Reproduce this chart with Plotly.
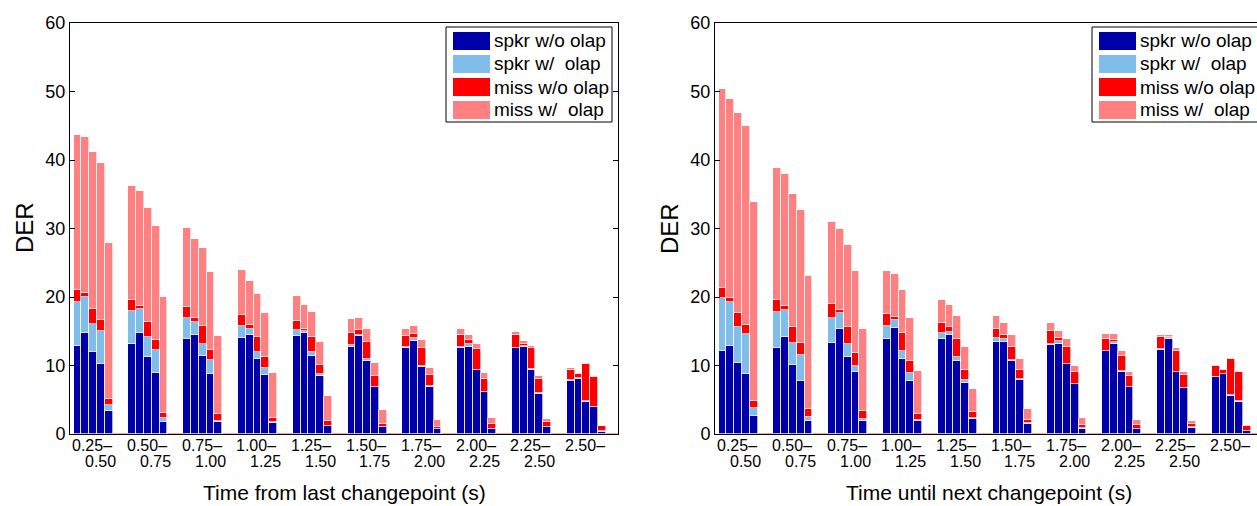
import plotly.graph_objects as go

W, H = 1257, 506
FONT = "Liberation Sans, Arial, Helvetica, sans-serif"

# Duration bins (two-line tick labels), five bars per bin
BIN_LABELS = [
    ("0.25–", "0.50"), ("0.50–", "0.75"), ("0.75–", "1.00"), ("1.00–", "1.25"),
    ("1.25–", "1.50"), ("1.50–", "1.75"), ("1.75–", "2.00"), ("2.00–", "2.25"),
    ("2.25–", "2.50"), ("2.50–", ""),
]
SERIES_NAMES = ["spkr w/o olap", "spkr w/\u00a0 olap", "miss w/o olap", "miss w/\u00a0 olap"]
SERIES_COLORS = ["#0000AB", "#80BDEB", "#FF0000", "#FF8080"]
TITLES = ["Time from last changepoint (s)", "Time until next changepoint (s)"]

# ---- Left panel: time from last changepoint ----
LAST_SPKR_NO_OLAP = [
    [12.9, 14.8, 11.9, 10.2, 3.3], [13.2, 14.7, 11.3, 8.9, 1.8], [13.8, 14.4, 11.4, 8.7, 1.7],
    [14.0, 14.5, 11.0, 8.6, 1.6], [14.3, 14.8, 11.4, 8.4, 1.1], [12.7, 14.3, 10.7, 6.8, 1.0],
    [12.6, 13.6, 9.8, 6.9, 0.7], [12.6, 12.7, 9.3, 6.1, 0.7], [12.5, 12.7, 9.4, 5.9, 1.0],
    [7.8, 8.1, 4.7, 3.9, 0.35],
]
LAST_SPKR_OLAP = [
    [6.3, 5.2, 4.2, 4.8, 0.9], [4.8, 3.6, 2.8, 3.3, 0.5], [3.2, 2.0, 1.8, 2.1, 0.2],
    [1.8, 0.9, 0.9, 1.1, 0.1], [0.9, 0.3, 0.5, 0.3, 0.1], [0.3, 0.2, 0.2, 0.1, 0.05],
    [0.1, 0.4, 0.1, 0.1, 0.05], [0.05, 0.4, 0.05, 0.05, 0.05], [0.05, 0.1, 0.05, 0.05, 0.05],
    [0.05, 0.05, 0.05, 0.05, 0.05],
]
LAST_MISS_NO_OLAP = [
    [1.8, 0.6, 2.1, 1.6, 0.9], [1.5, 0.4, 2.2, 1.5, 0.8], [1.5, 0.6, 2.5, 1.4, 1.0],
    [1.6, 0.5, 2.2, 1.5, 0.7], [1.3, 0.2, 2.3, 1.4, 0.7], [1.8, 0.7, 2.6, 1.6, 0.45],
    [1.6, 0.6, 2.7, 1.6, 0.25], [1.75, 0.6, 3.05, 1.85, 0.75], [1.95, 0.4, 3.05, 2.05, 0.7],
    [1.55, 0.55, 5.45, 4.35, 0.7],
]
LAST_MISS_OLAP = [
    [22.6, 22.7, 22.9, 22.9, 22.8], [16.7, 16.8, 16.7, 16.7, 16.9], [11.6, 11.4, 11.4, 11.4, 11.4],
    [6.5, 6.5, 6.4, 6.4, 6.5], [3.7, 3.6, 3.6, 3.4, 3.6], [2.0, 1.8, 1.9, 1.8, 2.0],
    [1.1, 1.1, 1.1, 1.1, 1.0], [0.9, 0.8, 0.8, 0.9, 0.8], [0.4, 0.4, 0.3, 0.4, 0.45],
    [0.2, 0.2, 0.2, 0.2, 0.1],
]

# ---- Right panel: time until next changepoint ----
NEXT_SPKR_NO_OLAP = [
    [12.1, 12.9, 10.3, 8.8, 2.7], [12.5, 14.1, 10.1, 7.8, 1.9], [13.3, 15.4, 11.2, 9.0, 1.9],
    [13.9, 15.5, 11.0, 7.8, 1.9], [13.8, 14.5, 10.7, 7.5, 2.2], [13.5, 13.5, 10.6, 7.9, 1.5],
    [13.0, 13.2, 10.2, 7.3, 0.8], [12.1, 13.2, 9.1, 6.8, 0.7], [12.3, 13.9, 9.0, 6.7, 0.9],
    [8.3, 8.7, 5.6, 4.7, 0.4],
]
NEXT_SPKR_OLAP = [
    [7.8, 6.4, 5.3, 5.8, 1.1], [5.3, 4.0, 3.2, 3.8, 0.6], [3.6, 2.2, 2.0, 0.9, 0.3],
    [1.8, 1.1, 1.1, 1.1, 0.1], [0.9, 0.4, 0.5, 0.4, 0.1], [0.5, 0.3, 0.2, 0.1, 0.05],
    [0.2, 0.4, 0.05, 0.05, 0.05], [0.05, 0.3, 0.05, 0.05, 0.05], [0.05, 0.1, 0.05, 0.05, 0.05],
    [0.05, 0.05, 0.05, 0.05, 0.05],
]
NEXT_MISS_NO_OLAP = [
    [1.4, 0.6, 2.1, 1.3, 1.0], [1.8, 0.6, 2.3, 1.7, 1.1], [2.1, 0.5, 2.4, 1.9, 1.2],
    [1.8, 0.5, 2.6, 1.7, 0.9], [1.5, 0.7, 2.7, 1.5, 0.9], [1.3, 0.7, 1.9, 1.3, 0.45],
    [1.8, 0.4, 2.45, 1.65, 0.45], [1.65, 0.2, 2.25, 1.55, 0.55], [1.75, 0.2, 3.05, 1.85, 0.55],
    [1.55, 0.55, 5.35, 4.35, 0.65],
]
NEXT_MISS_OLAP = [
    [29.0, 29.0, 29.1, 29.1, 29.1], [19.3, 19.3, 19.4, 19.4, 19.5], [12.0, 11.8, 12.0, 12.0, 12.0],
    [6.3, 6.3, 6.3, 6.4, 6.3], [3.3, 3.3, 3.3, 3.3, 3.4], [1.9, 1.7, 1.7, 1.6, 1.7],
    [1.2, 1.0, 1.1, 0.9, 1.0], [0.8, 0.9, 0.7, 0.7, 0.7], [0.4, 0.3, 0.4, 0.4, 0.35],
    [0.2, 0.2, 0.1, 0.1, 0.2],
]

PANELS = [
    [LAST_SPKR_NO_OLAP, LAST_SPKR_OLAP, LAST_MISS_NO_OLAP, LAST_MISS_OLAP],
    [NEXT_SPKR_NO_OLAP, NEXT_SPKR_OLAP, NEXT_MISS_NO_OLAP, NEXT_MISS_OLAP],
]

# ---- layout geometry (pixels) ----
SLOT = 7                      # 5 bars + 2 empty slots per bin
PX_PER_SLOT = 548 / 70
X0 = -0.95
PLOT_TOP, PLOT_BOTTOM = 23, 434
PANEL_LEFT = [70, 715]
PANEL_RIGHT = [618, W]


def px_x(px):
    return px / W


def px_y(py):
    return 1 - py / H


fig = go.Figure()

n_bins = len(BIN_LABELS)
for p, series in enumerate(PANELS):
    xa = "x" if p == 0 else "x2"
    ya = "y" if p == 0 else "y2"
    xs = [SLOT * g + b for g in range(n_bins) for b in range(5)]
    for s, values in enumerate(series):
        ys = [v for grp in values for v in grp]
        fig.add_trace(go.Bar(
            x=xs, y=ys, width=1, name=SERIES_NAMES[s],
            marker=dict(color=SERIES_COLORS[s],
                        line=dict(color="rgba(255,255,255,0.85)", width=0.8)),
            xaxis=xa, yaxis=ya, showlegend=False, hoverinfo="skip",
        ))
    # zero-height bins between groups show as a thin baseline
    gx, gy = [], []
    for g in range(n_bins):
        gx += [SLOT * g + 4.5, SLOT * g + 6.5, None]
        gy += [0, 0, None]
    fig.add_trace(go.Scatter(
        x=gx, y=gy, mode="lines", line=dict(color="#FF8080", width=1.5),
        xaxis=xa, yaxis=ya, showlegend=False, hoverinfo="skip",
    ))

axis_common = dict(showgrid=False, zeroline=False, linecolor="black", linewidth=1,
                   showline=True, fixedrange=True, automargin=False)
ydom = [px_y(PLOT_BOTTOM), px_y(PLOT_TOP)]

layout = dict(
    width=W, height=H, margin=dict(l=0, r=0, t=0, b=0, autoexpand=False),
    paper_bgcolor="white", plot_bgcolor="white",
    barmode="stack", bargap=0, showlegend=False,
    font=dict(family=FONT, color="black"),
)
for p in range(2):
    sx = "" if p == 0 else "2"
    left, right = PANEL_LEFT[p], PANEL_RIGHT[p]
    layout["xaxis" + sx] = dict(
        domain=[px_x(left), px_x(right)],
        range=[X0, X0 + (right - left) / PX_PER_SLOT],
        anchor="y" + sx, mirror=True, ticks="", showticklabels=False,
        layer="below traces", **axis_common,
    )
    layout["yaxis" + sx] = dict(
        domain=ydom, range=[0, 60], dtick=10, anchor="x" + sx,
        ticks="inside", ticklen=5, tickcolor="black",
        mirror="ticks" if p == 0 else False,
        tickfont=dict(size=18, family=FONT, color="black"),
        **axis_common,
    )
fig.update_layout(**layout)

annotations = []
shapes = []
for p in range(2):
    xa = "x" if p == 0 else "x2"
    left, right = PANEL_LEFT[p], PANEL_RIGHT[p]
    for g, (l1, l2) in enumerate(BIN_LABELS):
        annotations.append(dict(x=SLOT * g - 0.95, y=px_y(445), xref=xa, yref="paper",
                                text=l1, showarrow=False, xanchor="left", yanchor="middle",
                                font=dict(size=16, family=FONT, color="black")))
        if l2:
            annotations.append(dict(x=SLOT * g + 0.75, y=px_y(461), xref=xa, yref="paper",
                                    text=l2, showarrow=False, xanchor="left", yanchor="middle",
                                    font=dict(size=16, family=FONT, color="black")))
    # axis titles
    annotations.append(dict(x=px_x(left + 274), y=px_y(492), xref="paper", yref="paper",
                            text=TITLES[p], showarrow=False, xanchor="center", yanchor="middle",
                            font=dict(size=21, family=FONT, color="black")))
    annotations.append(dict(x=px_x(left - 46), y=px_y(228), xref="paper", yref="paper",
                            text="DER", textangle=-90, showarrow=False,
                            xanchor="center", yanchor="middle",
                            font=dict(size=24, family=FONT, color="black")))

    # legend box
    lx = right - 172 if p == 0 else 1092
    shapes.append(dict(type="rect", xref="paper", yref="paper",
                       x0=px_x(lx), x1=px_x(lx + 166), y0=px_y(122), y1=px_y(27),
                       fillcolor="white", line=dict(color="black", width=1), layer="above"))
    for i, (name, color) in enumerate(zip(SERIES_NAMES, SERIES_COLORS)):
        cy = 41 + 23 * i
        shapes.append(dict(type="rect", xref="paper", yref="paper",
                           x0=px_x(lx + 7), x1=px_x(lx + 44), y0=px_y(cy + 9), y1=px_y(cy - 9),
                           fillcolor=color, line=dict(width=0), layer="above"))
        annotations.append(dict(x=px_x(lx + 46), y=px_y(cy), xref="paper", yref="paper",
                                text=name, showarrow=False, xanchor="left", yanchor="middle",
                                font=dict(size=19, family=FONT, color="black")))

fig.update_layout(annotations=annotations, shapes=shapes)
fig.write_html("out.html")
